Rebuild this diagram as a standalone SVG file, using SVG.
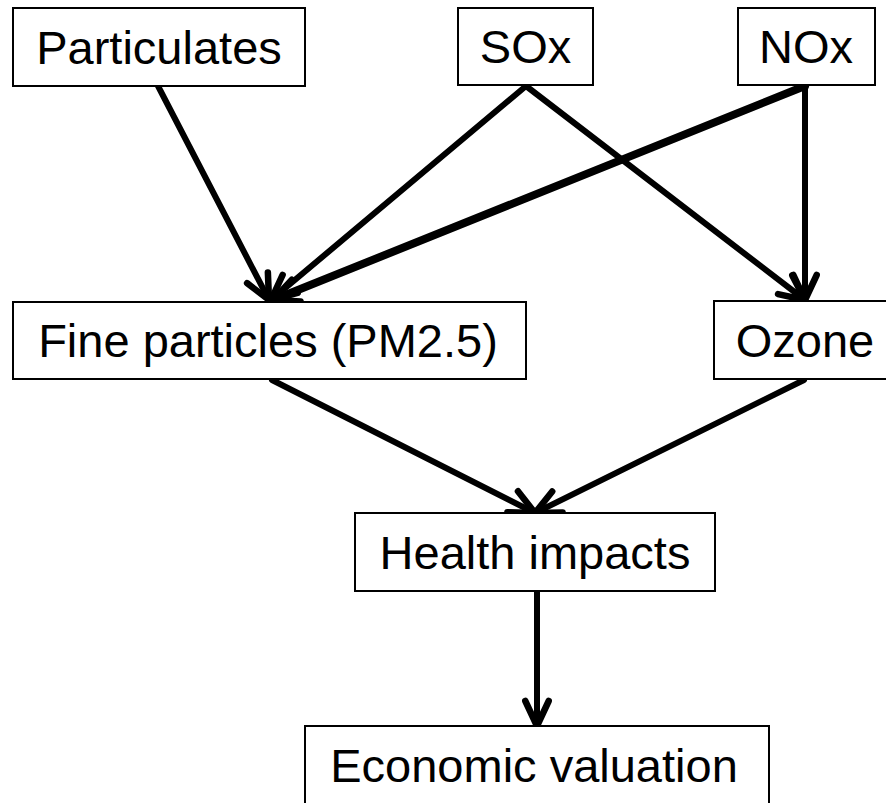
<svg xmlns="http://www.w3.org/2000/svg" width="886" height="803" viewBox="0 0 886 803">
<style>
.box{fill:#fff;stroke:#000;stroke-width:2}
.lbl{font-family:"Liberation Sans",Arial,sans-serif;font-size:47px;fill:#000;text-anchor:middle}
.edge{stroke:#000;stroke-width:6;fill:none;stroke-linecap:round;marker-end:url(#arr)}
</style>
<defs>
<marker id="arr" markerUnits="userSpaceOnUse" markerWidth="60" markerHeight="60" refX="0" refY="0" orient="auto" overflow="visible">
<path d="M-25,-11.7 L0,0 L-25,11.7" fill="none" stroke="#000" stroke-width="6.5" stroke-linecap="round" stroke-linejoin="round"/>
</marker>
</defs>
<rect width="886" height="803" fill="#fff"/>
<g id="connectors">
<line class="edge" x1="158" y1="86" x2="269" y2="300"/>
<line class="edge" x1="526" y1="86" x2="271" y2="300"/>
<line class="edge" x1="805" y1="86" x2="273" y2="300" style="stroke-width:8"/>
<line class="edge" x1="526" y1="86" x2="805" y2="300"/>
<line class="edge" x1="805" y1="86" x2="805" y2="300"/>
<line class="edge" x1="272" y1="380" x2="535" y2="513"/>
<line class="edge" x1="804" y1="380" x2="535" y2="513"/>
<line class="edge" x1="537" y1="592" x2="537" y2="726"/>
</g>
<g id="particulates"><rect class="box" x="13" y="8" width="292" height="78"/><text class="lbl" x="159" y="64">Particulates</text></g>
<g id="sox"><rect class="box" x="458" y="8" width="135" height="77"/><text class="lbl" x="525.5" y="63">SOx</text></g>
<g id="nox"><rect class="box" x="738" y="8" width="137" height="77"/><text class="lbl" x="806" y="63">NOx</text></g>
<g id="fine"><rect class="box" x="13" y="302" width="513" height="77"/><text class="lbl" x="268" y="357">Fine particles (PM2.5)</text></g>
<g id="ozone"><rect class="box" x="714" y="301" width="200" height="78"/><text class="lbl" x="805" y="357">Ozone</text></g>
<g id="health"><rect class="box" x="355" y="513" width="360" height="78"/><text class="lbl" x="535" y="569">Health impacts</text></g>
<g id="economic"><rect class="box" x="305" y="726" width="464" height="100"/><text class="lbl" x="534" y="782">Economic valuation</text></g>
</svg>
